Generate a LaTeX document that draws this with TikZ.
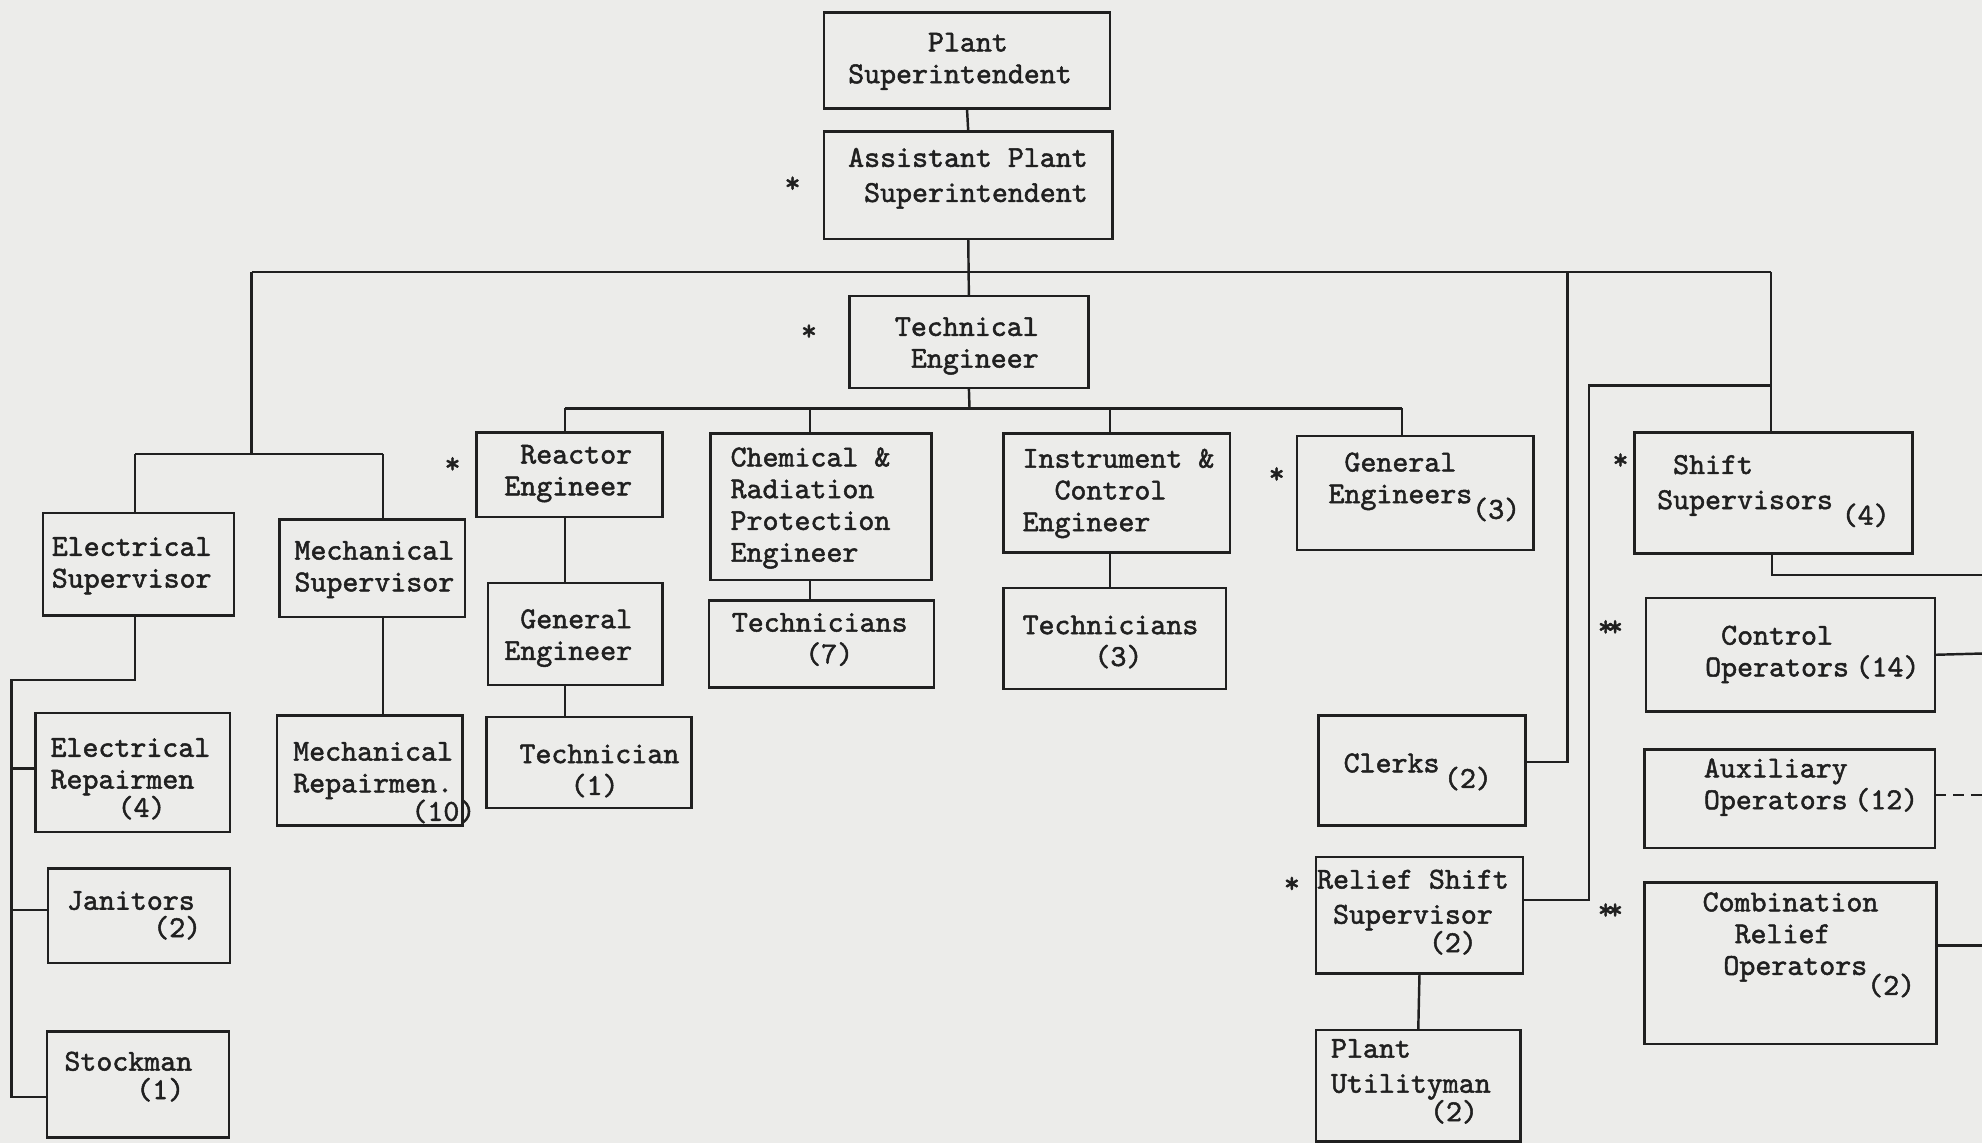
\documentclass[tikz,border=0pt]{standalone}
\usepackage{tikz}
\usepackage{fontspec}
\newfontfamily\typew[Extension=.otf, FakeBold=1.6]{lmmono10-regular}
\newlength\cwlen
\setlength\cwlen{7.19pt}
\newcommand\ind[1]{\hspace*{#1\cwlen}}
\definecolor{paper}{RGB}{236,236,234}
\definecolor{ink}{RGB}{32,32,32}
\tikzset{
  box/.style={draw=ink, line width=1.1pt, inner sep=0pt, outer sep=0pt, anchor=north west},
  txt/.style={inner sep=0pt, outer sep=0pt, align=left, anchor=north west, text=ink,
    font=\typew\fontsize{13.7}{14.3}\selectfont},
  star/.style={inner sep=0pt, outer sep=0pt, text=ink,
    font=\typew\fontsize{13.7}{14.3}\selectfont},
  link/.style={draw=ink, line width=1.1pt},
}
\newcommand\bx[5]{\node[box, minimum width={(#4-#2)*0.02cm}, minimum height={(#5-#3)*0.02cm}] (#1) at (#2,#3) {};}
\begin{document}
\begin{tikzpicture}[x=0.02cm, y=-0.02cm]
\fill[paper] (0,0) rectangle (1568,904);
\useasboundingbox (0,0) rectangle (1568,904);

% boxes
\bx{ps}{652}{10}{878}{86}
\bx{aps}{652}{104}{880}{189}
\bx{te}{672}{234}{861}{307}
\bx{re}{377}{342}{524}{409}
\bx{ch}{562}{343}{737}{459}
\bx{ic}{794}{343}{973}{437}
\bx{gn}{1026}{345}{1213}{435}
\bx{es}{34}{406}{185}{487}
\bx{ms}{221}{411}{368}{488}
\bx{ge}{386}{461}{524}{542}
\bx{tseven}{561}{475}{739}{544}
\bx{tthree}{794}{465}{970}{545}
\bx{tone}{385}{567}{547}{639}
\bx{er}{28}{564}{182}{658}
\bx{mr}{219}{566}{366}{653}
\bx{jn}{38}{687}{182}{762}
\bx{sm}{37}{816}{181}{900}
\bx{cl}{1043}{566}{1207}{653}
\bx{rss}{1041}{678}{1205}{770}
\bx{pu}{1041}{815}{1203}{903}
\bx{ss}{1293}{342}{1513}{438}
\bx{co}{1302}{473}{1531}{563}
\bx{ax}{1301}{593}{1531}{671}
\bx{cro}{1301}{698}{1532}{826}

% texts
\node[txt] (pst) at (671,26) {\ind{5}Plant\\Superintendent};
\node[txt] (apst) at (671,117) {Assistant Plant\\[1.5pt]\ind{1}Superintendent};
\node[txt] (tet) at (708,251) {Technical\\\ind{1}Engineer};
\node[txt] (ret) at (399,352) {\ind{1}Reactor\\Engineer};
\node[txt] (cht) at (578,354) {Chemical \&\\Radiation\\Protection\\Engineer};
\node[txt] (ict) at (809,355) {Instrument \&\\\ind{2}Control\\Engineer};
\node[txt] (gnt) at (1051,358) {\ind{1}General\\Engineers\raisebox{-7pt}{(3)}};
\node[txt] (est) at (41,425) {Electrical\\Supervisor};
\node[txt] (mst) at (233,428) {Mechanical\\Supervisor};
\node[txt] (get) at (399,482) {\ind{1}General\\Engineer};
\node[txt] (tsevent) at (579,485) {Technicians\\\ind{4.6}(7)};
\node[txt] (tthreet) at (809,487) {Technicians\\\ind{4.5}(3)};
\node[txt] (tonet) at (411,589) {Technician\\\ind{3.2}(1)};
\node[txt] (ert) at (40,584) {Electrical\\Repairmen\\[-1.5pt]\ind{4.2}(4)};
\node[txt] (mrt) at (232,587) {Mechanical\\Repairmen.\\[-1.5pt]\ind{7.4}(10)};
\node[txt] (jnt) at (53,705) {Janitors\\[-2pt]\ind{5.4}(2)};
\node[txt] (smt) at (51,832) {Stockman\\[-1.5pt]\ind{4.5}(1)};
\node[txt] (clt) at (1063,596) {Clerks\hspace{2pt}\raisebox{-7pt}{(2)}};
\node[txt] (rsst) at (1042,688) {Relief Shift\\[1.5pt]\ind{1}Supervisor\\[-1.5pt]\ind{7}(2)};
\node[txt] (put) at (1053,822) {Plant\\[1.5pt]Utilityman\\[-1.5pt]\ind{6.2}(2)};
\node[txt] (sst) at (1311,360) {\ind{1}Shift\\[1.5pt]Supervisors\hspace{4pt}\raisebox{-7pt}{(4)}};
\node[txt] (cot) at (1349,495) {\ind{1}Control\\Operators\hspace{3pt}(14)};
\node[txt] (axt) at (1348,600) {Auxiliary\\Operators\hspace{3pt}(12)};
\node[txt] (crot) at (1347,706) {Combination\\\ind{2}Relief\\\ind{1.3}Operators\raisebox{-9pt}{(2)}};

% stars
\node[star] (sa) at (627,146) {*};
\node[star] (sb) at (640,263) {*};
\node[star] (sc) at (358,368) {*};
\node[star] (sd) at (1010,376) {*};
\node[star] (se) at (1282,365) {*};
\node[star] (sf) at (1022,700) {*};
\node[star] (sg) at (1274,497) {*\kern-3pt*};
\node[star] (sh) at (1274,721) {*\kern-3pt*};

% coordinates
\coordinate (bL) at (199,215);
\coordinate (bC) at (1240,215);
\coordinate (bR) at (1401,215);
\coordinate (lb) at (199,359);
\coordinate (lbL) at (107,359);
\coordinate (lbR) at (303,359);
\coordinate (eb) at (107,538);
\coordinate (ebL) at (9,538);
\coordinate (tb) at (767,323);
\coordinate (dA) at (447,323);
\coordinate (dB) at (641,323);
\coordinate (dC) at (878,323);
\coordinate (dD) at (1109,323);
\coordinate (cb) at (1240,603);
\coordinate (rbA) at (1401,305);
\coordinate (rbB) at (1257,305);
\coordinate (rbC) at (1257,712);
\coordinate (sbk) at (1402,455);
\coordinate (edgeA) at (1568,455);
\coordinate (edgeB) at (1568,517);
\coordinate (edgeC) at (1568,629);
\coordinate (edgeD) at (1568,748);

% connectors
\draw[link] (ps.south) -- (aps.north);
\draw[link] (aps.south) -- (te.north);
\draw[link] (bL) -- (bR);
\draw[link] (bL) -- (lb);
\draw[link] (lbL) -- (lbR);
\draw[link] (lbL) -- (lbL |- es.north);
\draw[link] (lbR) -- (lbR |- ms.north);
\draw[link] (lbR |- ms.south) -- (lbR |- mr.north);
\draw[link] (eb |- es.south) -- (eb) -- (ebL) -- (9,868) -- (sm.west |- 0,868);
\draw[link] (9,608) -- (er.west |- 0,608);
\draw[link] (9,720) -- (jn.west |- 0,720);
\draw[link] (te.south) -- (tb);
\draw[link] (dA) -- (dD);
\draw[link] (dA) -- (dA |- re.north);
\draw[link] (dB) -- (dB |- ch.north);
\draw[link] (dC) -- (dC |- ic.north);
\draw[link] (dD) -- (dD |- gn.north);
\draw[link] (dA |- re.south) -- (dA |- ge.north);
\draw[link] (dA |- ge.south) -- (dA |- tone.north);
\draw[link] (dB |- ch.south) -- (dB |- tseven.north);
\draw[link] (dC |- ic.south) -- (dC |- tthree.north);
\draw[link] (bC) -- (cb) -- (cb -| cl.east);
\draw[link] (bR) -- (bR |- ss.north);
\draw[link] (rbA) -- (rbB) -- (rbC) -- (rbC -| rss.east);
\draw[link] (rss.south) -- (pu.north);
\draw[link] (sbk |- ss.south) -- (sbk) -- (edgeA);
\draw[link] (co.east) -- (edgeB);
\draw[link, dash pattern=on 5pt off 3pt] (ax.east |- edgeC) -- (edgeC);
\draw[link] (cro.east |- edgeD) -- (edgeD);
\end{tikzpicture}
\end{document}
